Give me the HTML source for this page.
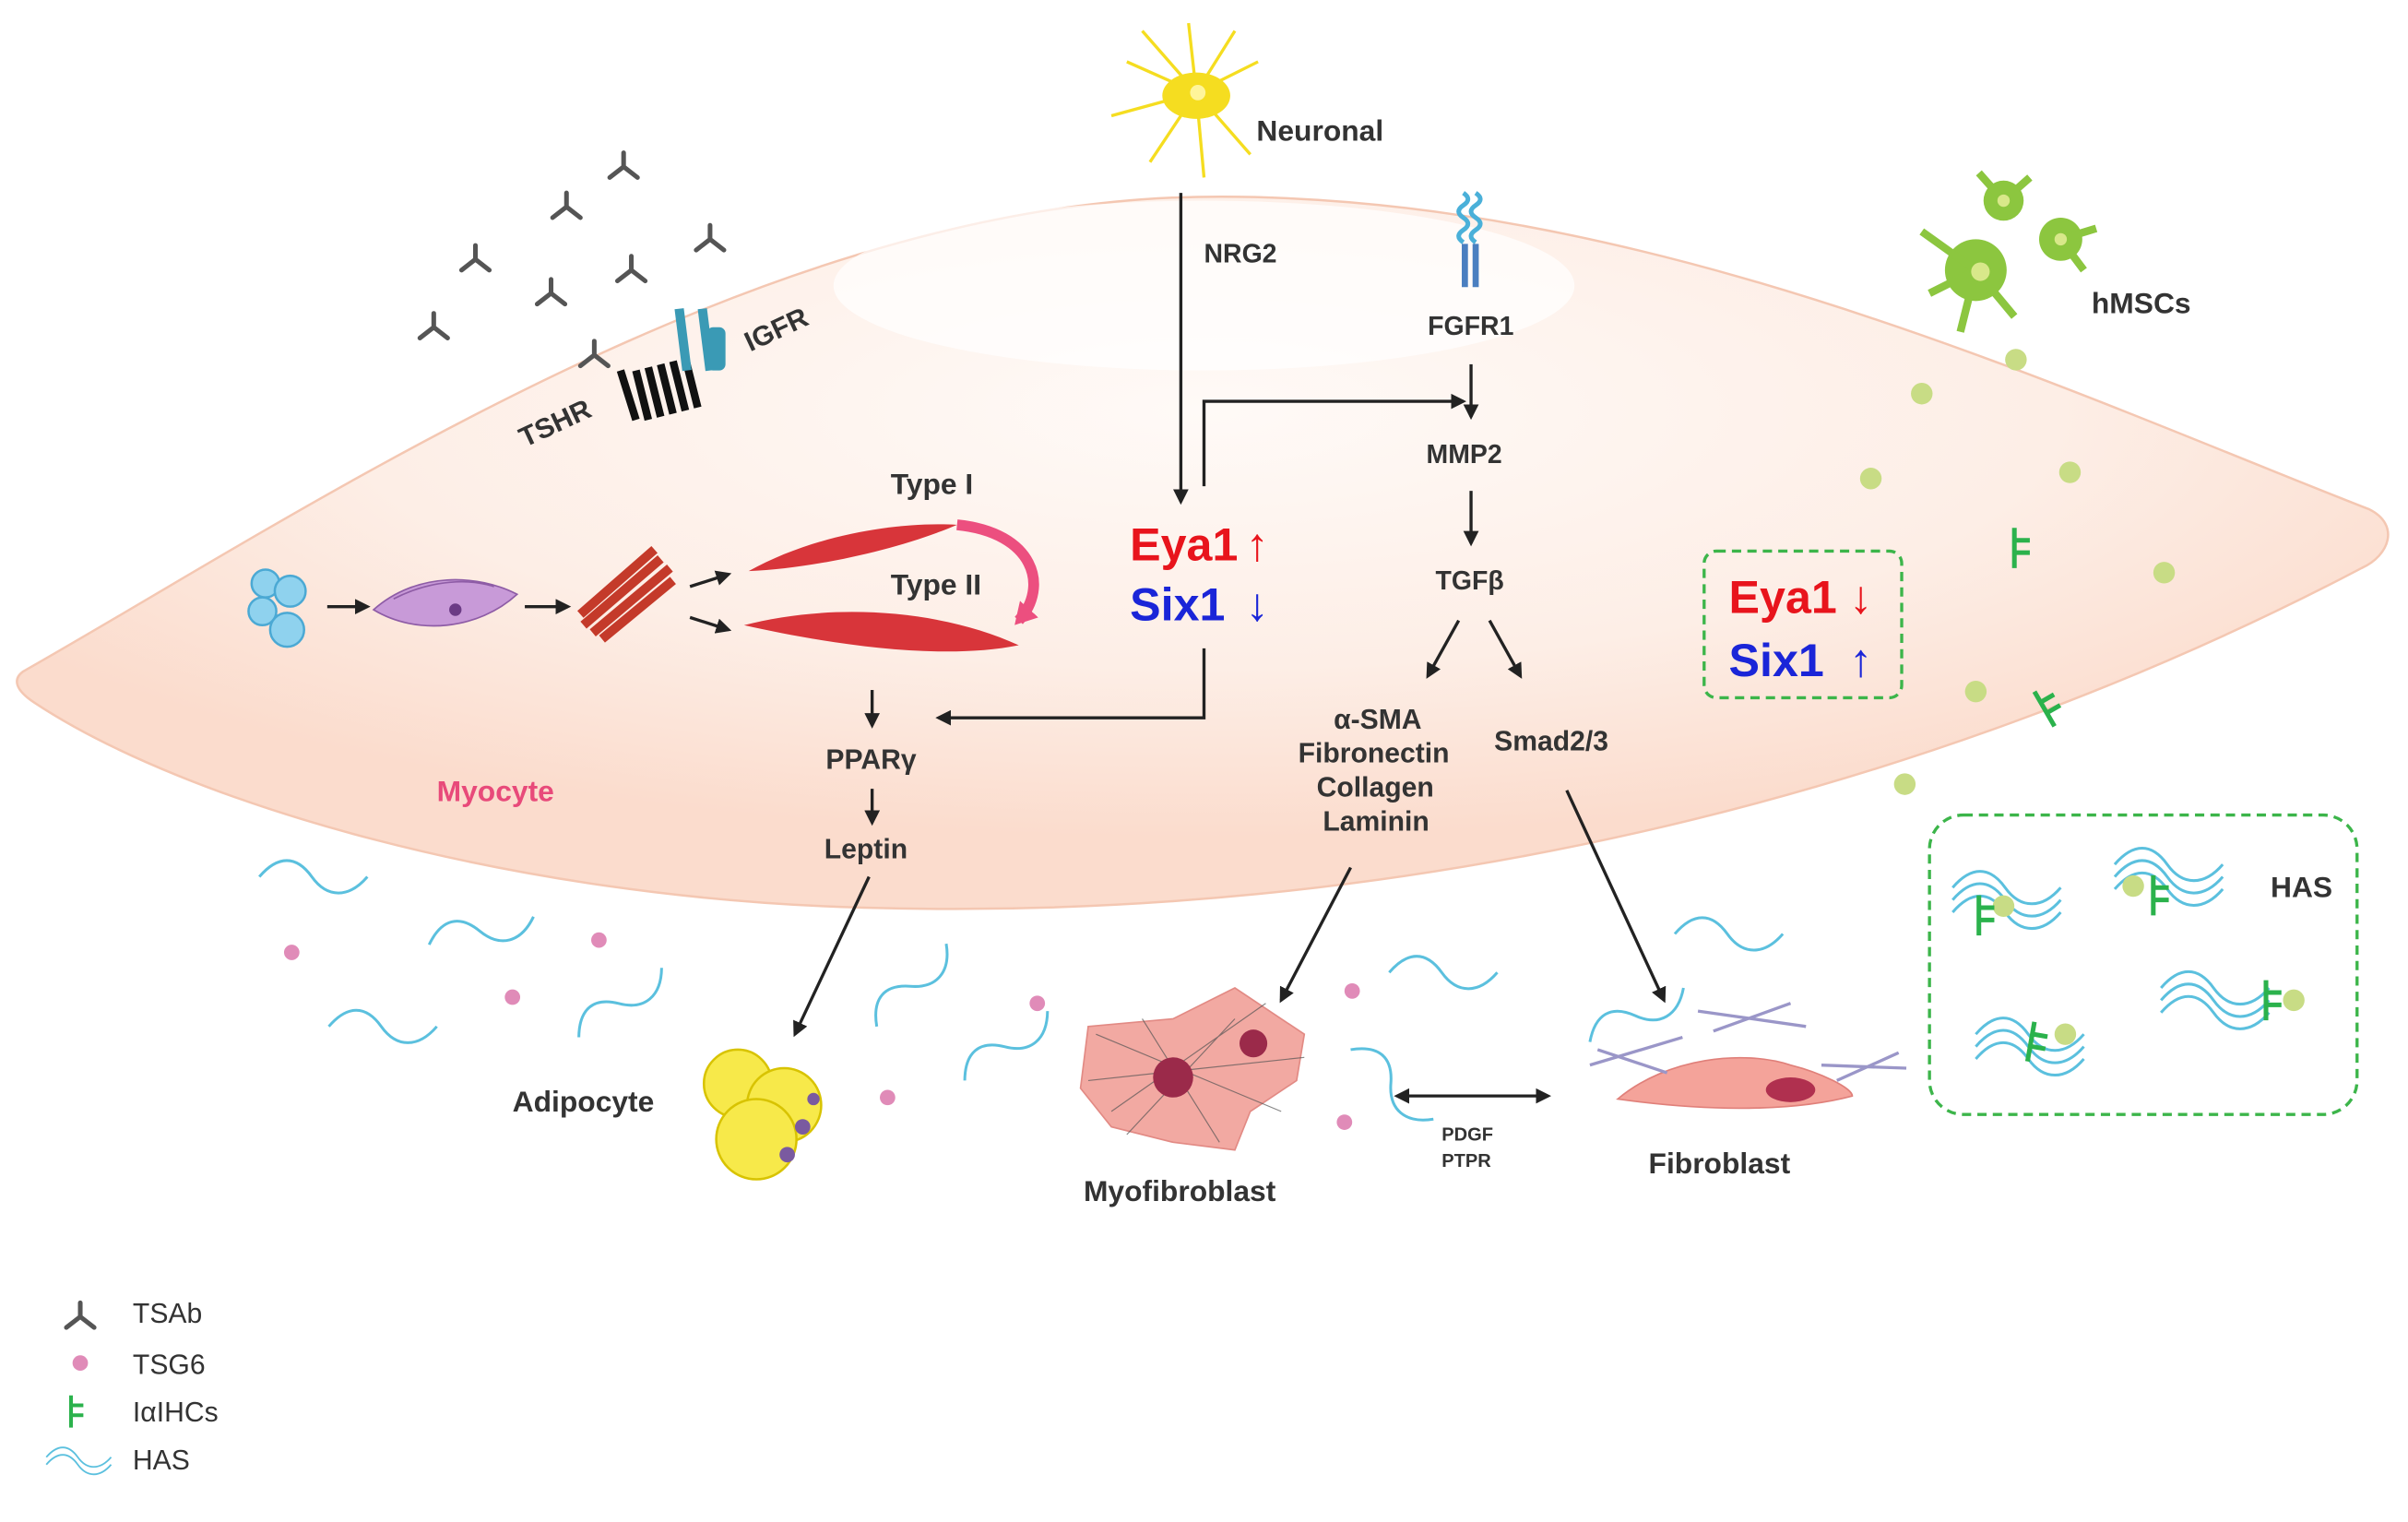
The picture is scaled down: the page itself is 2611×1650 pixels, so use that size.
<!DOCTYPE html>
<html><head><meta charset="utf-8"><style>
html,body{margin:0;padding:0;background:#fff;}
svg{display:block;}
text{font-family:"Liberation Sans",sans-serif;}
</style></head><body>
<svg width="2611" height="1650" viewBox="0 0 1560 986" preserveAspectRatio="none" xmlns="http://www.w3.org/2000/svg">
<defs>
<radialGradient id="cellg" cx="0.5" cy="0.3" r="0.6">
<stop offset="0" stop-color="#fffaf7"/><stop offset="0.6" stop-color="#fdeee6"/><stop offset="1" stop-color="#fbdccd"/>
</radialGradient>
<marker id="ar" markerWidth="10" markerHeight="10" refX="8" refY="5" orient="auto" markerUnits="userSpaceOnUse"><path d="M0,0 L10,5 L0,10 z" fill="#222"/></marker>
<marker id="al" markerWidth="10" markerHeight="10" refX="2" refY="5" orient="auto" markerUnits="userSpaceOnUse"><path d="M10,0 L0,5 L10,10 z" fill="#222"/></marker>
<marker id="ap" markerWidth="16" markerHeight="16" refX="10" refY="8" orient="auto" markerUnits="userSpaceOnUse"><path d="M0,0 L14,8 L0,16 z" fill="#ec4f7f"/></marker>
<g id="ab" stroke="#555" stroke-width="3" fill="none" stroke-linecap="round"><path d="M0,0 L0,-9 M0,0 L-9,7 M0,0 L9,7"/><path d="M-4,-14 L-2,-9 M4,-14 L2,-9" stroke-width="0"/></g>
<g id="wave" fill="none" stroke="#5bc0de" stroke-width="1.8"><path d="M0,0 C12,-14 24,-14 34,0 S58,14 70,0"/></g>
<g id="iai" stroke="#2bb24c" stroke-width="3" fill="none"><path d="M0,0 L0,26 M0,8 L10,8 M0,16 L10,16"/></g>
</defs>

<!-- myocyte -->
<path d="M15,435 C200,330 480,140 760,128 C1050,118 1330,250 1535,330 C1555,340 1548,360 1530,368 C1240,520 900,598 560,588 C330,582 120,520 22,455 C10,447 8,440 15,435 Z" fill="url(#cellg)" stroke="#f4c7b2" stroke-width="1.5"/>
<ellipse cx="780" cy="185" rx="240" ry="55" fill="#fff" opacity="0.7"/>

<!-- antibodies -->
<g transform="translate(404,108)"><use href="#ab"/></g>
<g transform="translate(367,134)"><use href="#ab"/></g>
<g transform="translate(460,155)"><use href="#ab"/></g>
<g transform="translate(308,168)"><use href="#ab"/></g>
<g transform="translate(409,175)"><use href="#ab"/></g>
<g transform="translate(357,190)"><use href="#ab"/></g>
<g transform="translate(281,212)"><use href="#ab"/></g>
<g transform="translate(385,230)"><use href="#ab"/></g>

<!-- TSHR -->
<g stroke="#111" stroke-width="5" fill="none">
<path d="M402,240 L412,272 M412,240 L420,272 M420,238 L428,270 M428,236 L436,268 M436,234 L444,266 M444,232 L452,264"/>
</g>
<path d="M440,200 L445,240 M455,200 L460,240" stroke="#3a9ab5" stroke-width="6"/>
<rect x="458" y="212" width="12" height="28" rx="4" fill="#3a9ab5"/>
<text x="340" y="290" font-size="18" font-weight="bold" fill="#333" transform="rotate(-25 340 290)">TSHR</text>
<text x="486" y="228" font-size="18" font-weight="bold" fill="#333" transform="rotate(-25 486 228)">IGFR</text>

<!-- neuron -->
<g>
<g stroke="#f5dd20" stroke-width="2" fill="none">
<path d="M775,60 L730,40 M775,60 L720,75 M775,60 L745,105 M775,60 L780,115 M775,60 L810,100 M775,60 L815,40 M775,60 L770,15 M775,60 L740,20 M775,60 L800,20"/>
</g>
<ellipse cx="775" cy="62" rx="22" ry="15" fill="#f5dd20"/>
<circle cx="776" cy="60" r="5" fill="#fff59a"/>
</g>
<text x="814" y="91" font-size="19" font-weight="bold" fill="#333">Neuronal</text>
<text x="780" y="170" font-size="17" font-weight="bold" fill="#333">NRG2</text>

<!-- FGFR1 -->
<path d="M948,125 q6,4 0,8 q-6,4 0,8 q6,4 0,8 q-6,4 0,8 M956,125 q6,4 0,8 q-6,4 0,8 q6,4 0,8 q-6,4 0,8" stroke="#4ab0d9" stroke-width="3" fill="none"/>
<rect x="947" y="158" width="4" height="28" fill="#4a7fc0"/><rect x="954" y="158" width="4" height="28" fill="#4a7fc0"/>
<text x="925" y="217" font-size="17" font-weight="bold" fill="#333">FGFR1</text>
<text x="924" y="300" font-size="17" font-weight="bold" fill="#333">MMP2</text>
<text x="930" y="382" font-size="17" font-weight="bold" fill="#333">TGFβ</text>

<!-- hMSCs -->
<g fill="#8cc63f">
<circle cx="1280" cy="175" r="20"/><circle cx="1298" cy="130" r="13"/><circle cx="1335" cy="155" r="14"/>
<path d="M1280,175 L1245,150 M1280,175 L1250,190 M1280,175 L1270,215 M1280,175 L1305,205 M1298,130 L1282,112 M1298,130 L1315,115 M1335,155 L1358,148 M1335,155 L1350,175" stroke="#8cc63f" stroke-width="5"/>
</g>
<circle cx="1283" cy="176" r="6" fill="#d8e88a"/><circle cx="1335" cy="155" r="4" fill="#d8e88a"/><circle cx="1298" cy="130" r="4" fill="#d8e88a"/>
<text x="1355" y="203" font-size="19" font-weight="bold" fill="#333">hMSCs</text>
<g fill="#c8dc85">
<circle cx="1306" cy="233" r="7"/><circle cx="1245" cy="255" r="7"/><circle cx="1212" cy="310" r="7"/><circle cx="1341" cy="306" r="7"/><circle cx="1402" cy="371" r="7"/><circle cx="1280" cy="448" r="7"/><circle cx="1234" cy="508" r="7"/>
</g>
<g transform="translate(1305,342)"><use href="#iai"/></g>
<g transform="translate(1318,448) rotate(-30)"><use href="#iai"/></g>

<!-- Eya1 Six1 center -->
<text x="732" y="363" font-size="30" font-weight="bold" fill="#e8141c">Eya1</text>
<text x="807" y="363" font-size="30" font-weight="bold" fill="#e8141c">↑</text>
<text x="732" y="402" font-size="30" font-weight="bold" fill="#1a25d8">Six1</text>
<text x="807" y="402" font-size="30" font-weight="bold" fill="#1a25d8">↓</text>

<!-- dashed box right -->
<rect x="1104" y="357" width="128" height="95" rx="8" fill="none" stroke="#3cb54a" stroke-width="2" stroke-dasharray="6,4"/>
<text x="1120" y="397" font-size="30" font-weight="bold" fill="#e8141c">Eya1</text>
<text x="1198" y="397" font-size="30" font-weight="bold" fill="#e8141c">↓</text>
<text x="1120" y="438" font-size="30" font-weight="bold" fill="#1a25d8">Six1</text>
<text x="1198" y="438" font-size="30" font-weight="bold" fill="#1a25d8">↑</text>

<!-- arrows -->
<g stroke="#222" stroke-width="2" fill="none" marker-end="url(#ar)">
<path d="M765,125 L765,325"/>
<path d="M780,315 L780,260 L948,260"/>
<path d="M953,236 L953,270"/>
<path d="M953,318 L953,352"/>
<path d="M945,402 L925,438"/>
<path d="M965,402 L985,438"/>
<path d="M780,420 L780,465 L608,465"/>
<path d="M565,447 L565,470"/>
<path d="M565,511 L565,533"/>
<path d="M563,568 L515,670"/>
<path d="M875,562 L830,648"/>
<path d="M1015,512 L1078,648"/>
<path d="M212,393 L238,393"/>
<path d="M340,393 L368,393"/>
<path d="M447,380 L472,372"/>
<path d="M447,400 L472,408"/>
<path d="M905,710 L1003,710" marker-start="url(#al)"/>
</g>
<path d="M620,340 C670,345 680,380 660,402" stroke="#ec4f7f" stroke-width="7" fill="none" marker-end="url(#ap)"/>

<!-- cells differentiation -->
<g fill="#8fd2ee" stroke="#4ba9d4" stroke-width="1.5">
<circle cx="172" cy="378" r="9"/><circle cx="188" cy="383" r="10"/><circle cx="170" cy="396" r="9"/><circle cx="186" cy="408" r="11"/>
</g>
<path d="M242,395 C270,370 310,372 335,385 C310,408 270,412 242,395 Z" fill="#c89ad8" stroke="#8e5ca6"/>
<path d="M255,388 C280,375 305,375 320,380" stroke="#8e5ca6" fill="none"/>
<circle cx="295" cy="395" r="4" fill="#6b3b85"/>
<g stroke="#c43a2a" stroke-width="6">
<path d="M378,405 L428,362 M384,410 L434,368 M376,398 L424,356 M390,414 L436,376"/>
</g>
<path d="M485,370 C530,345 585,338 620,340 C585,355 530,368 485,370 Z" fill="#d8353a"/>
<path d="M482,405 C540,390 610,395 660,418 C610,428 540,418 482,405 Z" fill="#d8353a"/>
<text x="577" y="320" font-size="19" font-weight="bold" fill="#333">Type I</text>
<text x="577" y="385" font-size="19" font-weight="bold" fill="#333">Type II</text>
<text x="535" y="498" font-size="18" font-weight="bold" fill="#333">PPARγ</text>
<text x="534" y="556" font-size="18" font-weight="bold" fill="#333">Leptin</text>
<text x="283" y="519" font-size="19" font-weight="bold" fill="#e84a7a">Myocyte</text>

<text x="864" y="472" font-size="18" font-weight="bold" fill="#333">α-SMA</text>
<text x="841" y="494" font-size="18" font-weight="bold" fill="#333">Fibronectin</text>
<text x="853" y="516" font-size="18" font-weight="bold" fill="#333">Collagen</text>
<text x="857" y="538" font-size="18" font-weight="bold" fill="#333">Laminin</text>
<text x="968" y="486" font-size="18" font-weight="bold" fill="#333">Smad2/3</text>

<!-- waves -->
<g transform="translate(168,568)"><use href="#wave"/></g>
<g transform="translate(278,612) rotate(-15)"><use href="#wave"/></g>
<g transform="translate(213,665)"><use href="#wave"/></g>
<g transform="translate(375,672) rotate(-40)"><use href="#wave"/></g>
<g transform="translate(568,665) rotate(-50)"><use href="#wave"/></g>
<g transform="translate(625,700) rotate(-40)"><use href="#wave"/></g>
<g transform="translate(900,630)"><use href="#wave"/></g>
<g transform="translate(1085,605)"><use href="#wave"/></g>
<g transform="translate(1030,675) rotate(-30)"><use href="#wave"/></g>
<g transform="translate(875,680) rotate(40)"><use href="#wave"/></g>
<g fill="#e08bb8">
<circle cx="189" cy="617" r="5"/><circle cx="332" cy="646" r="5"/><circle cx="388" cy="609" r="5"/><circle cx="672" cy="650" r="5"/><circle cx="575" cy="711" r="5"/><circle cx="876" cy="642" r="5"/><circle cx="871" cy="727" r="5"/>
</g>

<!-- adipocyte -->
<g stroke="#d8c300" stroke-width="1.5">
<circle cx="478" cy="702" r="22" fill="#f7e94a"/><circle cx="508" cy="716" r="24" fill="#f7e94a"/><circle cx="490" cy="738" r="26" fill="#f7e94a"/>
</g>
<circle cx="520" cy="730" r="5" fill="#7a5aa0"/><circle cx="510" cy="748" r="5" fill="#7a5aa0"/><circle cx="527" cy="712" r="4" fill="#7a5aa0"/>
<text x="332" y="720" font-size="19" font-weight="bold" fill="#333">Adipocyte</text>

<!-- myofibroblast -->
<path d="M705,665 L760,660 L800,640 L845,670 L840,700 L810,720 L800,745 L760,740 L720,730 L700,705 Z" fill="#f2a9a2" stroke="#e28a84"/>
<g stroke="#555" stroke-width="0.7" opacity="0.7"><path d="M710,670 L830,720 M720,720 L820,650 M740,660 L790,740 M705,700 L845,685 M730,735 L800,660"/></g>
<circle cx="760" cy="698" r="13" fill="#9b2a4a"/><circle cx="812" cy="676" r="9" fill="#9b2a4a"/>
<text x="702" y="778" font-size="19" font-weight="bold" fill="#333">Myofibroblast</text>
<text x="934" y="739" font-size="12" font-weight="bold" fill="#333">PDGF</text>
<text x="934" y="756" font-size="12" font-weight="bold" fill="#333">PTPR</text>

<!-- fibroblast -->
<path d="M1048,712 C1080,685 1130,680 1160,690 C1180,695 1200,705 1200,710 C1170,718 1120,722 1048,712 Z" fill="#f4a39a" stroke="#e0807a"/>
<ellipse cx="1160" cy="706" rx="16" ry="8" fill="#b0304f"/>
<g stroke="#9a96c8" stroke-width="2"><path d="M1030,690 L1090,672 M1035,680 L1080,695 M1100,655 L1170,665 M1110,668 L1160,650 M1180,690 L1235,692 M1190,700 L1230,682"/></g>
<text x="1068" y="760" font-size="19" font-weight="bold" fill="#333">Fibroblast</text>

<!-- HAS box -->
<rect x="1250" y="528" width="277" height="194" rx="22" fill="none" stroke="#3cb54a" stroke-width="2" stroke-dasharray="6,4"/>
<text x="1471" y="581" font-size="19" font-weight="bold" fill="#333">HAS</text>
<g transform="translate(1265,575)"><use href="#wave"/><g transform="translate(0,8)"><use href="#wave"/></g><g transform="translate(0,16)"><use href="#wave"/></g></g>
<g transform="translate(1370,560)"><use href="#wave"/><g transform="translate(0,8)"><use href="#wave"/></g><g transform="translate(0,16)"><use href="#wave"/></g></g>
<g transform="translate(1280,670)"><use href="#wave"/><g transform="translate(0,8)"><use href="#wave"/></g><g transform="translate(0,16)"><use href="#wave"/></g></g>
<g transform="translate(1400,640)"><use href="#wave"/><g transform="translate(0,8)"><use href="#wave"/></g><g transform="translate(0,16)"><use href="#wave"/></g></g>
<g fill="#c8dc85"><circle cx="1298" cy="587" r="7"/><circle cx="1382" cy="574" r="7"/><circle cx="1338" cy="670" r="7"/><circle cx="1486" cy="648" r="7"/></g>
<g transform="translate(1282,580)"><use href="#iai"/></g>
<g transform="translate(1395,567)"><use href="#iai"/></g>
<g transform="translate(1318,662) rotate(10)"><use href="#iai"/></g>
<g transform="translate(1468,635)"><use href="#iai"/></g>

<!-- legend -->
<g transform="translate(52,853)"><use href="#ab"/></g>
<text x="86" y="857" font-size="18" fill="#333">TSAb</text>
<circle cx="52" cy="883" r="5" fill="#e08bb8"/>
<text x="86" y="890" font-size="18" fill="#333">TSG6</text>
<g transform="translate(46,904) scale(0.8)"><use href="#iai"/></g>
<text x="86" y="921" font-size="18" fill="#333">IαIHCs</text>
<g transform="translate(30,944) scale(0.6)"><use href="#wave"/><g transform="translate(0,8)"><use href="#wave"/></g></g>
<text x="86" y="952" font-size="18" fill="#333">HAS</text>
</svg>
</body></html>
